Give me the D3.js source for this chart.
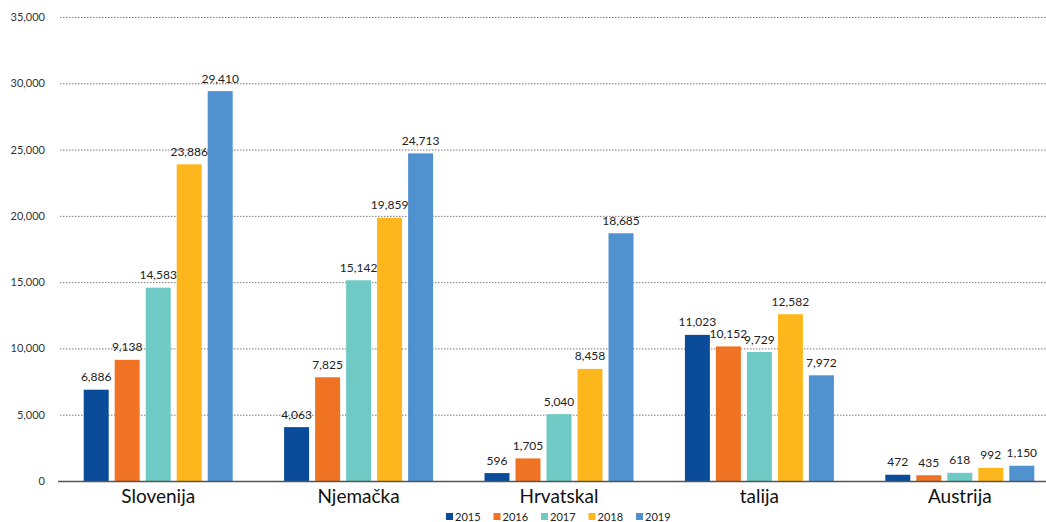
<!DOCTYPE html>
<html>
<head>
<meta charset="utf-8">
<script src="https://cdn.jsdelivr.net/npm/d3@7"></script>
<style>
  html, body { margin: 0; padding: 0; background: #fff; overflow: hidden; }
  svg { display: block; font-family: Lato, "Open Sans", sans-serif; }
</style>
</head>
<body>
<svg id="chart" width="1046" height="522"></svg>
<script>
// Countries, years and yearly counts
const countries = ["Slovenija", "Njemačka", "Hrvatskal", "talija", "Austrija"];
const years = ["2015", "2016", "2017", "2018", "2019"];
const v2015 = [6886, 4063, 596, 11023, 472];
const v2016 = [9138, 7825, 1705, 10152, 435];
const v2017 = [14583, 15142, 5040, 9729, 618];
const v2018 = [23886, 19859, 8458, 12582, 992];
const v2019 = [29410, 24713, 18685, 7972, 1150];
const yTicks = [0, 5000, 10000, 15000, 20000, 25000, 30000, 35000];
const colors = ["#0a4c9a", "#f07223", "#6fcac5", "#fdb71c", "#5091cf"];

const seriesValues = [v2015, v2016, v2017, v2018, v2019];
const rows = countries.map((c, i) => ({
  country: c,
  values: years.map((yr, j) => ({ year: yr, value: seriesValues[j][i] }))
}));

const svg = d3.select("#chart");
const plotLeft = 58, plotRight = 1060, plotTop = 17, plotBottom = 481;

const x0 = d3.scaleBand().domain(countries).range([plotLeft, plotRight]).paddingInner(0).paddingOuter(0);
const groupPad = 25.7;
const x1 = d3.scaleBand().domain(years)
  .range([groupPad, x0.bandwidth() - groupPad])
  .paddingInner(0.194).paddingOuter(0);
const y = d3.scaleLinear().domain([0, 35000]).range([plotBottom, plotTop]);
const color = d3.scaleOrdinal().domain(years).range(colors);
const fmt = d3.format(",");

// Horizontal dotted gridlines
const yAxis = d3.axisLeft(y).tickValues(yTicks).tickFormat(fmt)
  .tickSize(-(1046 - 60)).tickPadding(15);
const gy = svg.append("g").attr("transform", `translate(60,0)`).call(yAxis);
gy.select(".domain").remove();
gy.selectAll(".tick line")
  .attr("stroke", "#7a7a7a").attr("stroke-width", 1)
  .attr("stroke-dasharray", "1.5,1.5")
  .filter(d => d === 0).remove();
gy.selectAll(".tick text")
  .attr("fill", "#333").style("font-size", "11px")
  .style("font-family", "Lato, sans-serif");

// Bars
const groups = svg.append("g").selectAll("g").data(rows).join("g")
  .attr("transform", d => `translate(${x0(d.country)},0)`);

groups.selectAll("rect").data(d => d.values).join("rect")
  .attr("x", d => x1(d.year))
  .attr("y", d => y(d.value))
  .attr("width", x1.bandwidth())
  .attr("height", d => y(0) - y(d.value))
  .attr("fill", d => color(d.year));

// Value labels above bars
groups.selectAll("text.val").data(d => d.values).join("text")
  .attr("class", "val")
  .attr("x", d => x1(d.year) + x1.bandwidth() / 2)
  .attr("y", d => y(d.value) - 8.5)
  .attr("text-anchor", "middle")
  .attr("fill", "#222")
  .style("font-size", "12px")
  .text(d => fmt(d.value));

// Baseline
svg.append("line")
  .attr("x1", plotLeft).attr("x2", 1046)
  .attr("y1", y(0) + 0.5).attr("y2", y(0) + 0.5)
  .attr("stroke", "#555").attr("stroke-width", 1.3);

// Category labels
const xAxis = d3.axisBottom(x0).tickSize(0).tickPadding(9);
const gx = svg.append("g").attr("transform", `translate(0,${plotBottom})`).call(xAxis);
gx.select(".domain").remove();
gx.selectAll(".tick text")
  .attr("fill", "#111").style("font-size", "19px")
  .style("font-family", "Lato, sans-serif");

// Legend
const legend = svg.append("g").attr("transform", "translate(446,513)");
const item = legend.selectAll("g").data(years).join("g")
  .attr("transform", (d, i) => `translate(${i * 47.5},0)`);
item.append("rect").attr("width", 7).attr("height", 7).attr("y", 0)
  .attr("fill", d => color(d));
item.append("text").attr("x", 9).attr("y", 8)
  .attr("fill", "#222").style("font-size", "11px")
  .text(d => d);
</script>
</body>
</html>
